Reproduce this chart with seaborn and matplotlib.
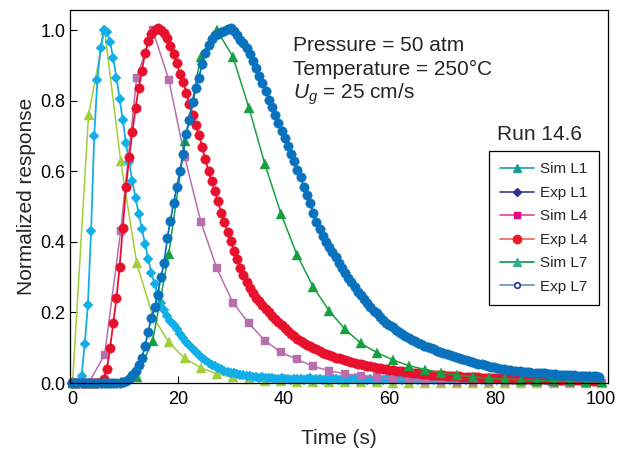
import matplotlib
matplotlib.use("Agg")
import matplotlib.pyplot as plt
from matplotlib.lines import Line2D
import numpy as np
import seaborn as sns

# Zeitachsen (Messung alle 0.6 s, Simulation alle 3.03 s)
exp_time = np.round(np.arange(167) * 0.6, 1)
sim_time = np.round(0.1 + 3.03 * np.arange(34), 2)

exp_l1 = [0, 0, 0, 0.02, 0.11, 0.22, 0.43, 0.70, 0.86, 0.95,
          1.0, 0.995, 0.965, 0.92, 0.865, 0.805, 0.745, 0.68, 0.625, 0.572,
          0.525, 0.48, 0.437, 0.395, 0.352, 0.312, 0.28, 0.252, 0.228, 0.206,
          0.19, 0.176, 0.165, 0.153, 0.14, 0.128, 0.117, 0.107, 0.097, 0.088,
          0.08, 0.072, 0.065, 0.058, 0.052, 0.047, 0.043, 0.039, 0.035, 0.032,
          0.029, 0.027, 0.025, 0.023, 0.022, 0.02, 0.019, 0.017, 0.018, 0.015,
          0.016, 0.014, 0.013, 0.014, 0.012, 0.011, 0.013, 0.01, 0.012, 0.009, 0.011,
          0.010, 0.012, 0.008, 0.011, 0.013, 0.009, 0.010, 0.012, 0.008, 0.011,
          0.009, 0.013, 0.010, 0.008, 0.012, 0.010, 0.009, 0.011, 0.013, 0.008,
          0.010, 0.012, 0.009, 0.011, 0.008, 0.010, 0.012, 0.009, 0.011, 0.010,
          0.008, 0.012, 0.010, 0.009, 0.011, 0.013, 0.008, 0.010, 0.009, 0.012,
          0.010, 0.008, 0.011, 0.009, 0.012, 0.010, 0.008, 0.011, 0.009, 0.010,
          0.012, 0.008, 0.010, 0.009, 0.011, 0.008, 0.010, 0.012, 0.009, 0.008,
          0.010, 0.009, 0.011, 0.008, 0.010, 0.009, 0.007, 0.011, 0.009, 0.008,
          0.010, 0.008, 0.009, 0.011, 0.007, 0.009, 0.010, 0.008, 0.009, 0.007,
          0.010, 0.008, 0.009, 0.007, 0.010, 0.008, 0.009, 0.007, 0.008, 0.010,
          0.008, 0.007, 0.009, 0.008, 0.007, 0.009]

exp_l4 = [0, 0, 0, 0, 0, 0, 0, 0, 0, 0.004,
          0.012, 0.04, 0.1, 0.17, 0.24, 0.33, 0.44, 0.555, 0.64, 0.71,
          0.78, 0.835, 0.885, 0.935, 0.968, 0.988, 1.0, 1.005, 1.0, 0.993,
          0.977, 0.955, 0.932, 0.906, 0.877, 0.853, 0.823, 0.79, 0.76, 0.731,
          0.703, 0.67, 0.634, 0.6, 0.572, 0.543, 0.515, 0.483, 0.455, 0.428,
          0.402, 0.375, 0.35, 0.325, 0.305, 0.287, 0.268, 0.254, 0.242, 0.231,
          0.22, 0.21, 0.2, 0.191, 0.182, 0.173, 0.164, 0.156, 0.147, 0.139,
          0.132, 0.126, 0.12, 0.114, 0.109, 0.104, 0.1, 0.095, 0.09, 0.086,
          0.082, 0.079, 0.076, 0.072, 0.07, 0.067, 0.065, 0.062, 0.06, 0.057,
          0.055, 0.053, 0.051, 0.049, 0.047, 0.045, 0.043, 0.042, 0.04, 0.039,
          0.037, 0.036, 0.035, 0.034, 0.033, 0.031, 0.03, 0.029, 0.028, 0.027,
          0.026, 0.026, 0.025, 0.024, 0.023, 0.023, 0.022, 0.022, 0.021, 0.02,
          0.02, 0.019, 0.019, 0.018, 0.018, 0.017, 0.017, 0.016, 0.016, 0.015,
          0.015, 0.015, 0.014, 0.014, 0.014, 0.013,
          0.013, 0.013, 0.012, 0.012, 0.012, 0.012, 0.011, 0.011, 0.011, 0.011,
          0.010, 0.010, 0.010, 0.010, 0.010, 0.009, 0.009, 0.009, 0.009, 0.009,
          0.009, 0.008, 0.008, 0.008, 0.008, 0.008, 0.008, 0.007, 0.007, 0.007, 0.007]

exp_l7 = [0, 0, 0, 0, 0, 0, 0, 0, 0, 0,
          0, 0, 0, 0, 0, 0, 0.002, 0.005, 0.012, 0.022,
          0.035, 0.05, 0.07, 0.105, 0.145, 0.185, 0.215, 0.25, 0.3, 0.34,
          0.41, 0.46, 0.51, 0.555, 0.6, 0.65, 0.705, 0.745, 0.795, 0.835,
          0.865, 0.905, 0.935, 0.958, 0.975, 0.985, 0.99, 0.995, 0.998, 1.003,
          1.005, 0.998, 0.985, 0.972, 0.963, 0.95, 0.933, 0.913, 0.893, 0.87,
          0.85, 0.827, 0.803, 0.781, 0.76, 0.736, 0.714, 0.695, 0.672, 0.65,
          0.63, 0.605, 0.585, 0.555, 0.533, 0.51, 0.483, 0.457, 0.436, 0.417,
          0.4, 0.386, 0.371, 0.356, 0.341, 0.327, 0.311, 0.298, 0.286, 0.272,
          0.259, 0.248, 0.238, 0.226, 0.214, 0.205, 0.197, 0.188, 0.179, 0.171,
          0.164, 0.158, 0.151, 0.144, 0.138, 0.133, 0.128, 0.123, 0.118, 0.114,
          0.11, 0.106, 0.102, 0.098, 0.095, 0.092, 0.089, 0.085, 0.082, 0.079,
          0.076, 0.073, 0.07, 0.067, 0.065, 0.062, 0.06, 0.057, 0.055, 0.053,
          0.05, 0.048, 0.046, 0.044, 0.042, 0.04, 0.039, 0.038, 0.036, 0.035,
          0.034, 0.033, 0.032, 0.031, 0.03, 0.029, 0.029, 0.028, 0.027, 0.027,
          0.026, 0.025, 0.025, 0.024, 0.024, 0.023, 0.023, 0.022, 0.022, 0.021,
          0.021, 0.02, 0.02, 0.02, 0.019, 0.019, 0.018]

sim_l1 = [0.0, 0.76, 1.0, 0.63, 0.34, 0.19, 0.115, 0.07, 0.043, 0.026,
          0.016, 0.011, 0.007, 0.005, 0.004, 0.003, 0.003, 0.002, 0.002, 0.002,
          0.001, 0.001, 0.001, 0.001, 0.001, 0.001, 0.0, 0.0, 0.0, 0.0,
          0.0, 0.0, 0.0, 0.0]
sim_l4 = [0.0, 0.0, 0.08, 0.43, 0.865, 1.0, 0.86, 0.64, 0.457, 0.325,
          0.228, 0.169, 0.12, 0.087, 0.067, 0.047, 0.035, 0.026, 0.02, 0.016,
          0.012, 0.009, 0.007, 0.005, 0.004, 0.003, 0.003, 0.002, 0.002, 0.002,
          0.001, 0.001, 0.001, 0.001]
sim_l7 = [0.0, 0.0, 0.0, 0.002, 0.018, 0.12, 0.365, 0.685, 0.925, 1.0,
          0.925, 0.78, 0.62, 0.48, 0.363, 0.273, 0.205, 0.152, 0.112, 0.086,
          0.065, 0.049, 0.038, 0.029, 0.022, 0.018, 0.013, 0.011, 0.009, 0.007,
          0.006, 0.005, 0.004, 0.003]

labels = ["Sim L1", "Exp L1", "Sim L4", "Exp L4", "Sim L7", "Exp L7"]

sns.set_theme(style="ticks")
plt.rcParams["font.family"] = ["Liberation Sans", "DejaVu Sans"]
plt.rcParams["mathtext.fontset"] = "custom"
plt.rcParams["mathtext.rm"] = "Liberation Sans"
plt.rcParams["mathtext.it"] = "Liberation Sans:italic"

fig = plt.figure(figsize=(6.31, 4.53), dpi=100)
ax = fig.add_axes([70 / 631, 70 / 453, 538 / 631, 373 / 453])

# Reihenfolge wie in der Legende
series = [
    (sim_time, sim_l1, "#a3cd3a", "^", 6.5, 1.1),
    (exp_time, exp_l1, "#12aee8", "D", 4.6, 1.3),
    (sim_time, sim_l4, "#b86fae", "s", 6.3, 1.1),
    (exp_time, exp_l4, "#e8112d", "o", 6.8, 1.3),
    (sim_time, sim_l7, "#17a043", "^", 6.5, 1.1),
    (exp_time, exp_l7, "#0a72bd", "o", 6.8, 1.3),
]
for x, y, c, m, ms, lw in series:
    sns.lineplot(x=x, y=y, ax=ax, color=c, marker=m, markersize=ms,
                 markeredgecolor=c, markeredgewidth=0.3, linewidth=lw,
                 clip_on=False)

ax.set_xlim(-0.38, 101.3)
ax.set_ylim(0, 1.057)
ax.set_xticks([0, 20, 40, 60, 80, 100])
ax.set_yticks([0.0, 0.2, 0.4, 0.6, 0.8, 1.0])
ax.set_yticklabels(["0.0", "0.2", "0.4", "0.6", "0.8", "1.0"])
ax.tick_params(direction="in", length=5, width=0.8, labelsize=13, colors="black")
ax.tick_params(axis="x", pad=6)
for s in ax.spines.values():
    s.set_linewidth(0.9)
    s.set_color("black")
ax.set_xlabel("Time (s)", fontsize=15, labelpad=15)
ax.set_ylabel("Normalized response", fontsize=15, labelpad=3)

fig.text(293 / 631, 1 - 50.7 / 453, "Pressure = 50 atm", fontsize=15, va="baseline")
fig.text(293 / 631, 1 - 75 / 453, "Temperature = 250\u00b0C", fontsize=15, va="baseline")
fig.text(293 / 631, 1 - 98.3 / 453, "$U_g$ = 25 cm/s", fontsize=15, va="baseline")
fig.text(497 / 631, 1 - 140 / 453, "Run 14.6", fontsize=15, va="baseline")

handles = [
    Line2D([], [], color="#27a9b3", marker="^", markersize=6, mfc="#1a9e8c", mec="#1a9e8c", lw=1.3),
    Line2D([], [], color="#4a4b9b", marker="D", markersize=4, mfc="#2e3192", mec="#2e3192", lw=1.3),
    Line2D([], [], color="#ee4c9e", marker="s", markersize=5, mfc="#e4087f", mec="#e4087f", lw=1.3),
    Line2D([], [], color="#f26d6d", marker="o", markersize=6, mfc="#ed1c24", mec="#ed1c24", lw=1.3),
    Line2D([], [], color="#12a650", marker="^", markersize=6, mfc="#3aaa8f", mec="#3aaa8f", lw=1.3),
    Line2D([], [], color="#6c9bd2", marker="o", markersize=4, mfc="white", mec="#2e3192", mew=1.2, lw=1.3),
]
leg = ax.legend(handles, labels, loc="upper left",
                bbox_to_anchor=(489 / 631, 1 - 151 / 453), bbox_transform=fig.transFigure,
                borderaxespad=0, fontsize=11, frameon=True, fancybox=False,
                edgecolor="black", framealpha=1, handlelength=2.2, handletextpad=0.4,
                labelspacing=0.62, borderpad=0.75)
leg.get_frame().set_linewidth(0.9)

fig.savefig("out.png", dpi=100)
